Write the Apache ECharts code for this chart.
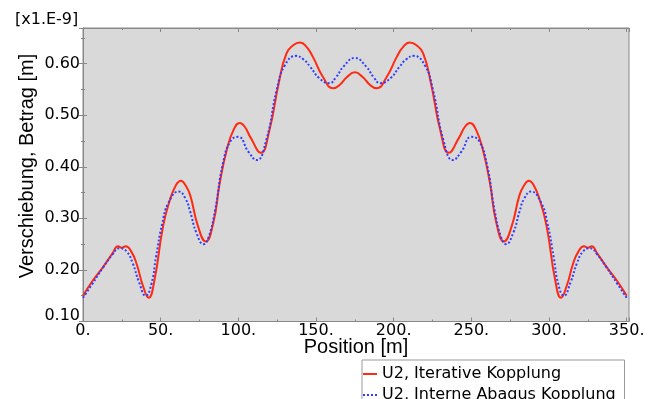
<!DOCTYPE html>
<html>
<head>
<meta charset="utf-8">
<script src="https://cdn.jsdelivr.net/npm/echarts@6/dist/echarts.min.js"></script>
<style>
  html, body { margin: 0; padding: 0; background: #fff; }
  #chart { width: 656px; height: 399px; }
</style>
</head>
<body>
<div id="chart"></div>
<script>
// Verschiebung U2 entlang der Position, Werte in 1e-9 m
const iterPos = [0, 6, 13, 19, 22.5, 25, 27.5, 31, 34.5, 38.5, 42.3, 46, 51.5, 56, 60, 63, 66, 69, 74, 79,
  84, 88, 92.5, 97, 101, 104, 108, 114.5, 120, 126, 131, 135.5, 139.7, 144, 148, 154.5, 161, 165, 170, 175,
  180, 185, 189, 195.5, 202, 206, 210.3, 214.5, 219, 224, 230, 235.5, 242, 246, 249, 253, 257.5, 262, 266, 271,
  276, 281, 284, 287, 290, 294, 298.5, 304, 307.7, 311.5, 315.5, 319, 322.5, 325, 327.5, 331, 337, 344, 350];
const iterVal = [0.150, 0.178, 0.206, 0.232, 0.246, 0.243, 0.246, 0.236, 0.212, 0.170, 0.146, 0.180, 0.284, 0.336, 0.365, 0.373, 0.364, 0.345, 0.285, 0.255,
  0.293, 0.368, 0.432, 0.472, 0.485, 0.478, 0.456, 0.427, 0.471, 0.562, 0.620, 0.636, 0.641, 0.632, 0.613, 0.574, 0.552, 0.558, 0.574, 0.583,
  0.574, 0.558, 0.552, 0.574, 0.613, 0.632, 0.641, 0.636, 0.620, 0.562, 0.471, 0.427, 0.456, 0.478, 0.485, 0.472, 0.432, 0.368, 0.293, 0.255,
  0.285, 0.345, 0.364, 0.373, 0.365, 0.336, 0.284, 0.180, 0.146, 0.170, 0.212, 0.236, 0.246, 0.243, 0.246, 0.232, 0.206, 0.178, 0.150];

const abaqusPos = [0, 6, 13, 19, 23.5, 28, 32, 36, 40.4, 44, 47, 51, 55, 61.6, 66, 69, 73, 77.7, 81, 85,
  90, 95, 100, 106.5, 111.8, 118, 124.7, 130, 137.2, 142, 146.2, 152, 158.6, 163, 167.6, 175,
  182.4, 187, 191.4, 198, 203.8, 208, 212.8, 220, 225.3, 232, 238.2, 243.5, 250, 255, 260, 265, 269, 272.3,
  277, 281, 284, 288.4, 295, 299, 303, 306, 309.6, 314, 318, 322, 326.5, 331, 337, 344, 350];
const abaqusVal = [0.146, 0.173, 0.205, 0.230, 0.242, 0.236, 0.213, 0.177, 0.150, 0.172, 0.225, 0.290, 0.330, 0.352, 0.338, 0.313, 0.272, 0.250, 0.265, 0.315,
  0.405, 0.450, 0.458, 0.429, 0.413, 0.452, 0.549, 0.597, 0.615, 0.608, 0.594, 0.572, 0.562, 0.574, 0.594, 0.611,
  0.594, 0.574, 0.562, 0.572, 0.594, 0.608, 0.615, 0.597, 0.549, 0.452, 0.413, 0.429, 0.458, 0.450, 0.405, 0.315, 0.265, 0.250,
  0.272, 0.313, 0.338, 0.352, 0.330, 0.290, 0.225, 0.172, 0.150, 0.177, 0.213, 0.236, 0.242, 0.230, 0.205, 0.173, 0.146];

const seriesNames = ['U2, Iterative Kopplung', 'U2, Interne Abaqus Kopplung'];

const lblFont = 'DejaVu Sans';
const tickColor = '#888';
const redColor = '#ff2a14';
const blueColor = '#2f3dff';

// legend icons: solid dash and dotted dash
const solidIcon = 'path://M0,0h14v2h-14z';
const dottedIcon = 'path://M0,0h2v2h-2zM4,0h2v2h-2zM8,0h2v2h-2zM12,0h2v2h-2z';

function pairs(xs, ys) {
  return xs.map((x, i) => [x, ys[i]]);
}

const chart = echarts.init(document.getElementById('chart'));

const tickCommon = {
  axisLine: { show: true, lineStyle: { color: tickColor } },
  axisTick: { show: true, inside: true, length: 4, lineStyle: { color: tickColor } },
  minorTick: { show: true, splitNumber: 2, length: 2, lineStyle: { color: tickColor } },
  splitLine: { show: false }
};

const legendCommon = {
  orient: 'vertical', left: 362, padding: [0, 3, 0, 1],
  itemWidth: 14, itemHeight: 2,
  textStyle: { color: '#000', fontFamily: lblFont, fontSize: 16 }
};

chart.setOption({
  animation: false,
  grid: {
    left: 83, right: 27, top: 28, bottom: 77.5,
    show: true, backgroundColor: '#d9d9d9', borderColor: tickColor, borderWidth: 1
  },
  xAxis: [{
    type: 'value', min: 0, max: 351.5, interval: 50,
    ...tickCommon,
    axisLabel: {
      color: '#000', fontFamily: lblFont, fontSize: 16, margin: 1,
      showMaxLabel: false,
      formatter: v => v + '.'
    },
    name: 'Position [m]', nameLocation: 'middle', nameGap: 16, nameMoveOverlap: false,
    nameTextStyle: { color: '#000', fontFamily: 'Liberation Sans', fontSize: 20, verticalAlign: 'top' }
  }, {
    type: 'value', min: 0, max: 351.5, interval: 50, position: 'top',
    ...tickCommon,
    axisLabel: { show: false }
  }],
  yAxis: [{
    type: 'value', min: 0.1, max: 0.669, interval: 0.1,
    ...tickCommon,
    axisLabel: {
      color: '#000', fontFamily: lblFont, fontSize: 16, margin: 3,
      showMaxLabel: false,
      formatter: v => Math.abs(v - 0.1) < 1e-9 ? '{lo|0.10}' : v.toFixed(2),
      rich: { lo: { color: '#000', fontFamily: lblFont, fontSize: 16, padding: [0, 0, 11, 0] } }
    }
  }, {
    type: 'value', min: 0.1, max: 0.669, interval: 0.1, position: 'right',
    ...tickCommon,
    axisLabel: { show: false }
  }],
  legend: [
    { ...legendCommon, top: 366, data: [{ name: seriesNames[0], icon: solidIcon }] },
    { ...legendCommon, top: 387, data: [{ name: seriesNames[1], icon: dottedIcon }] }
  ],
  graphic: [{
    type: 'text', left: 15, top: 12,
    style: { text: '[x1.E-9]', font: '16px "DejaVu Sans"', fill: '#000' }
  }, {
    type: 'text', x: 27, y: 166, rotation: Math.PI / 2,
    style: {
      text: 'Verschiebung, Betrag [m]', font: '20px "Liberation Sans"', fill: '#000',
      align: 'center', verticalAlign: 'middle'
    }
  }, {
    type: 'rect', left: 361.5, top: 359.5, z: -1,
    shape: { width: 262.5, height: 60 },
    style: { fill: '#fff', stroke: '#999', lineWidth: 1 }
  }],
  series: [{
    name: seriesNames[0], type: 'line',
    data: pairs(iterPos, iterVal),
    smooth: 0.5, showSymbol: false, symbol: 'none',
    lineStyle: { color: redColor, width: 2 },
    itemStyle: { color: redColor }
  }, {
    name: seriesNames[1], type: 'line',
    data: pairs(abaqusPos, abaqusVal),
    smooth: 0.5, showSymbol: false, symbol: 'none',
    lineStyle: { color: blueColor, width: 2, type: [2, 2] },
    itemStyle: { color: blueColor }
  }]
});
</script>
</body>
</html>
